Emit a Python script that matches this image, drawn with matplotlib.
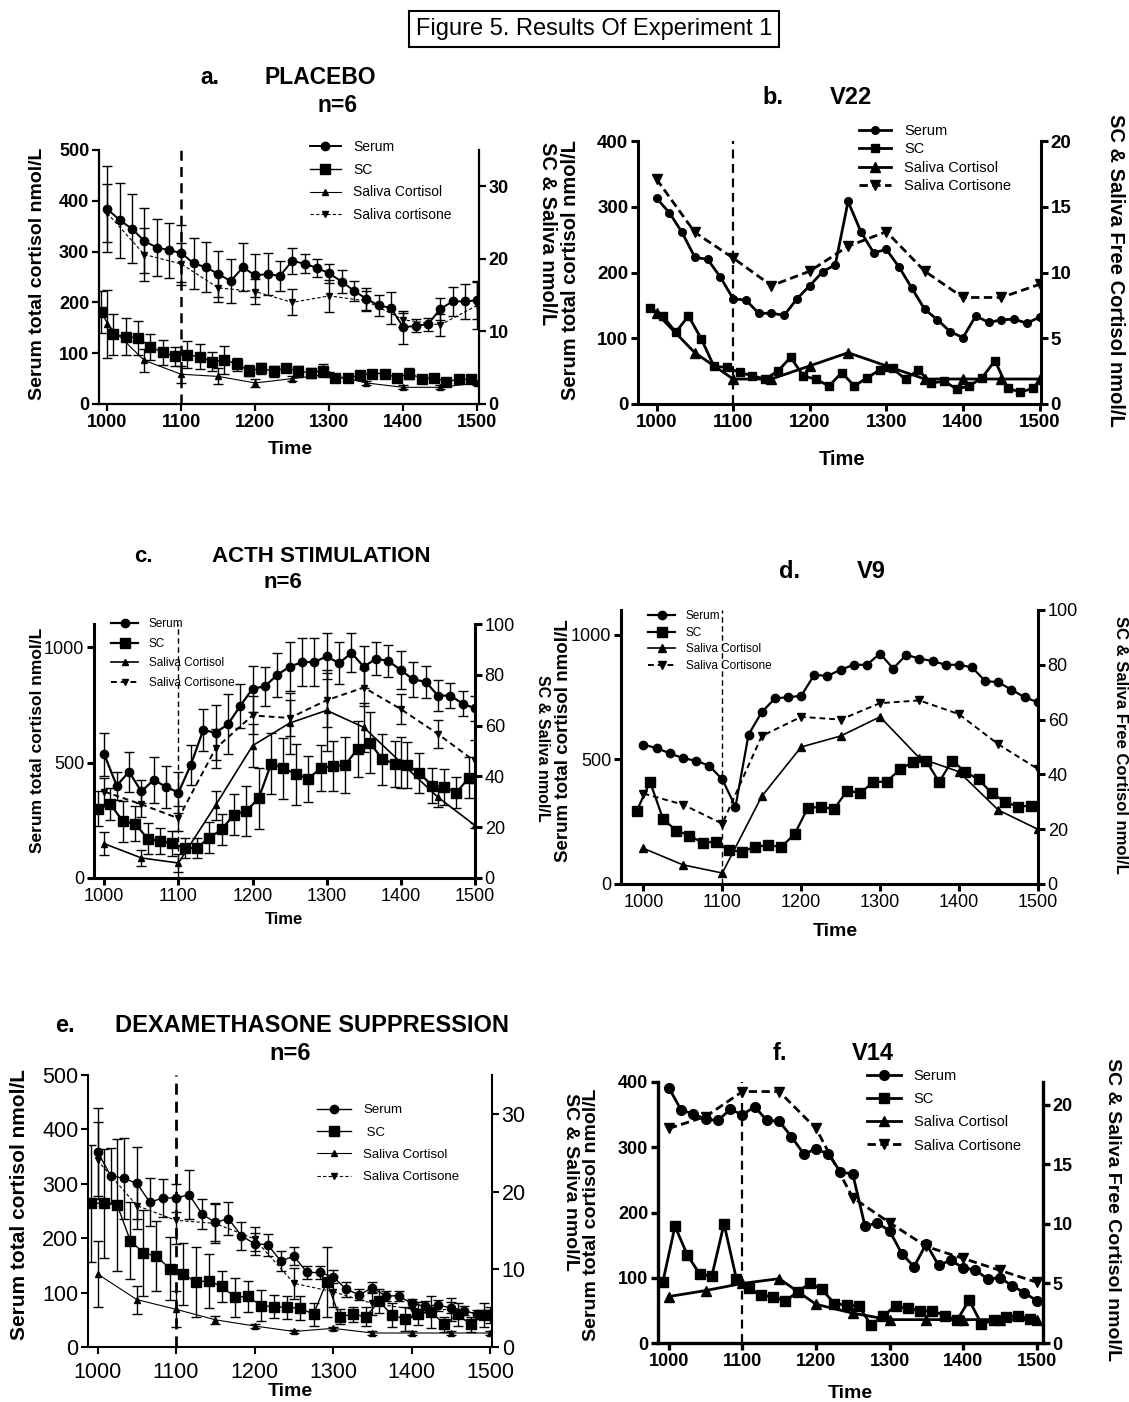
import matplotlib.pyplot as plt

W, H = 1129, 1402
plt.rcParams['font.family'] = ['Liberation Sans', 'DejaVu Sans']
fig = plt.figure(figsize=(W / 100, H / 100), dpi=100)

# sampling times, clock time (1000 = 10:00), serum every 10 min, SC drawn offset, saliva every 30 min
t_serum = [1000, 1016.7, 1033.3, 1050, 1066.7, 1083.3, 1100, 1116.7, 1133.3, 1150, 1166.7,
           1183.3, 1200, 1216.7, 1233.3, 1250, 1266.7, 1283.3, 1300, 1316.7, 1333.3, 1350,
           1366.7, 1383.3, 1400, 1416.7, 1433.3, 1450, 1466.7, 1483.3, 1500]
t_sc = [991.7, 1008.3, 1025, 1041.7, 1058.3, 1075, 1091.7, 1108.3, 1125, 1141.7, 1158.3,
        1175, 1191.7, 1208.3, 1225, 1241.7, 1258.3, 1275, 1291.7, 1308.3, 1325, 1341.7,
        1358.3, 1375, 1391.7, 1408.3, 1425, 1441.7, 1458.3, 1475, 1491.7]
t_saliva = [1000, 1050, 1100, 1150, 1200, 1250, 1300, 1350, 1400, 1450, 1500]

# a. placebo (mean, sem)
a_serum = [384, 362, 345, 321, 308, 303, 297, 277, 269, 256, 242, 269, 253, 256, 252, 282,
           276, 268, 257, 241, 223, 207, 194, 189, 151, 154, 157, 187, 202, 202, 204]
a_serum_err = [85, 74, 68, 64, 56, 54, 56, 50, 49, 46, 43, 47, 42, 42, 30, 26, 19, 18, 18,
               22, 20, 22, 20, 31, 32, 13, 13, 21, 29, 34, 37]
a_sc = [12.7, 9.6, 9.3, 9.1, 7.9, 7.1, 6.6, 6.8, 6.5, 5.8, 6.1, 5.5, 4.6, 4.9, 4.5, 5.0,
        4.5, 4.3, 4.6, 3.6, 3.6, 4.0, 4.2, 4.2, 3.6, 4.2, 3.5, 3.6, 3.1, 3.4, 3.4]
a_sc_err = [2.9, 2.8, 2.5, 2.4, 1.8, 1.7, 1.3, 1.9, 1.7, 1.3, 1.9, 0.9, 0.8, 0.8, 0.8, 0.5,
            0.8, 0.7, 0.9, 0.5, 0.3, 0.4, 0.4, 0.4, 0.5, 0.8, 0.3, 0.3, 0.3, 0.3, 0.3]
a_cortisol = [11.0, 6.0, 4.1, 3.8, 2.9, 3.5, 4.1, 2.9, 2.3, 2.3, 2.9]
a_cortisol_err = [4.7, 1.6, 1.2, 1.1, 0.5, 0.3, 0.3, 0.3, 0.3, 0.3, 0.3]
a_cortisone = [26.3, 20.6, 19.3, 16.0, 15.5, 14.0, 14.9, 14.2, 11.6, 10.9, 13.6]
a_cortisone_err = [4.0, 3.7, 2.9, 2.0, 1.7, 1.8, 2.2, 1.4, 1.0, 1.5, 3.3]

# b. V22
b_serum = [313, 291, 261, 223, 220, 193, 160, 158, 138, 138, 135, 160, 180, 201, 212, 308,
           262, 230, 235, 208, 176, 144, 128, 110, 101, 134, 124, 128, 129, 123, 132]
b_sc = [7.3, 6.7, 5.45, 6.7, 4.97, 2.86, 2.79, 2.4, 2.15, 1.9, 2.5, 3.55, 2.13, 1.88, 1.37,
        2.38, 1.37, 2.0, 2.6, 2.7, 1.88, 2.6, 1.57, 1.75, 1.14, 1.37, 2.0, 3.3, 1.2, 0.9, 1.2]
b_cortisol = [6.9, 3.9, 1.9, 1.9, 2.9, 3.9, 2.9, 1.9, 1.9, 1.9, 1.9]
b_cortisone = [17.1, 13.05, 11.1, 9.0, 10.1, 12.0, 13.1, 10.1, 8.1, 8.1, 9.1]

# c. ACTH stimulation
c_serum = [535, 400, 460, 375, 425, 395, 370, 490, 640, 630, 665, 745, 820, 830, 880, 915,
           935, 935, 960, 930, 975, 915, 950, 940, 900, 860, 850, 790, 790, 755, 735]
c_serum_err = [95, 61, 87, 51, 100, 91, 90, 87, 92, 120, 130, 94, 100, 85, 95, 105, 105,
               105, 100, 90, 85, 90, 70, 68, 82, 75, 70, 68, 55, 55, 55]
c_sc = [27.3, 29.1, 22.3, 21.4, 15.5, 14.5, 13.6, 11.8, 11.8, 15.9, 19.1, 25.0, 26.4, 31.4,
        45.0, 43.2, 40.9, 39.1, 43.2, 44.1, 44.5, 50.9, 53.2, 46.8, 45.0, 44.5, 41.4, 36.4,
        35.9, 33.6, 39.5]
c_sc_err = [7, 6.4, 8, 7, 6, 5, 5, 4, 4, 6, 6, 8, 10, 12, 12, 12, 12, 9, 9, 10, 11, 11, 12,
            10, 9, 9, 8, 7, 7, 6, 8]
c_cortisol = [13.5, 7.9, 5.9, 28.6, 52.1, 61.0, 66.0, 59.3, 45.5, 31.8, 20.7]
c_cortisol_err = [4.6, 3, 3.4, 5.6, 8.4, 12, 16, 9.5, 10, 3.8, 1]
c_cortisone = [34.0, 29.0, 23.5, 51.0, 64.0, 63.0, 70.0, 75.0, 66.5, 56.7, 45.9]
c_cortisone_err = [5.5, 5, 5, 7.7, 7.5, 7.2, 10.7, 7.3, 6, 5.7, 8.5]

# d. V9
d_serum = [560, 545, 525, 505, 495, 475, 420, 310, 600, 690, 745, 750, 755, 840, 835, 860,
           880, 880, 925, 865, 920, 905, 895, 880, 880, 870, 815, 810, 780, 750, 730]
d_sc = [26.8, 37.3, 23.6, 19.5, 17.7, 15.0, 15.5, 12.3, 11.8, 13.6, 14.1, 13.6, 18.2, 27.7,
        28.2, 27.3, 34.1, 33.2, 37.3, 37.3, 41.8, 44.5, 45.0, 37.3, 45.0, 40.9, 38.2, 33.2,
        30.0, 28.2, 28.6]
d_cortisol = [13, 7, 4, 32, 50, 54, 61, 46, 41, 27, 20]
d_cortisone = [33, 29, 22, 54, 61, 60, 66, 67, 62, 51, 42]

# e. dexamethasone suppression
e_serum = [359, 315, 310, 301, 266, 274, 274, 280, 244, 229, 236, 204, 190, 188, 158, 167,
           137, 137, 129, 106, 96, 109, 94, 94, 80, 75, 77, 72, 67, 60, 60]
e_serum_err = [81, 50, 74, 66, 44, 35, 26, 45, 28, 35, 30, 25, 20, 20, 18, 17, 12, 12, 12,
               14, 10, 10, 9, 9, 9, 10, 10, 10, 8, 8, 8]
e_sc = [18.5, 18.5, 18.3, 13.7, 12.1, 11.7, 10.1, 9.4, 8.4, 8.5, 7.8, 6.4, 6.5, 5.3, 5.2,
        5.1, 5.0, 4.2, 8.4, 3.9, 4.2, 3.9, 5.9, 4.1, 3.6, 4.3, 4.5, 2.9, 4.2, 2.9, 4.1]
e_sc_err = [7.5, 7, 8.5, 5, 5.5, 4.5, 4, 4, 4.5, 3.5, 2, 2.5, 2, 2, 1.5, 1.5, 1.5, 1.5, 4.5,
            1, 1, 1.2, 1.5, 1.5, 1.5, 1.5, 2, 1, 1.5, 1, 1.5]
e_cortisol = [9.4, 6.1, 4.85, 3.5, 2.7, 2.0, 2.4, 1.8, 1.8, 1.8, 1.8]
e_cortisol_err = [4.2, 1.8, 2.3, 0.5, 0.2, 0.2, 0.2, 0.2, 0.2, 0.2, 0.2]
e_cortisone = [24.0, 18.2, 16.3, 15.9, 13.9, 8.2, 7.1, 5.6, 4.9, 4.8, 4.1]
e_cortisone_err = [5, 3, 3, 2.5, 1.5, 2, 2, 1.5, 1, 1.5, 1]

# f. V14
f_serum = [391, 357, 351, 343, 341, 358, 350, 362, 341, 340, 316, 290, 297, 290, 262, 259,
           179, 184, 172, 137, 117, 152, 119, 127, 115, 112, 98, 100, 88, 77, 65]
f_sc = [5.1, 9.8, 7.4, 5.8, 5.6, 10.0, 5.4, 4.6, 4.0, 3.9, 3.5, 4.3, 5.0, 4.5, 3.3, 3.2,
        3.1, 1.5, 2.3, 3.1, 2.9, 2.7, 2.7, 2.3, 1.9, 3.6, 1.6, 1.9, 2.2, 2.3, 2.0]
f_cortisol = [3.9, 4.4, 5.0, 5.4, 3.25, 2.5, 1.96, 1.96, 1.96, 1.96, 1.96]
f_cortisone = [18.0, 19.0, 21.1, 21.1, 18.0, 12.2, 10.1, 8.1, 7.1, 6.1, 5.1]

x_ticks = [1000, 1100, 1200, 1300, 1400, 1500]
narrow = ['Liberation Sans Narrow', 'Liberation Sans', 'DejaVu Sans']
plain = ['Liberation Sans', 'DejaVu Sans']


def make_axes(l, t, r, b, xlim, yl, yr, ytl, ytr, fs, weight='bold', lw=2.0, fam=plain):
    ax = fig.add_axes([l / W, 1 - b / H, (r - l) / W, (b - t) / H])
    ax2 = ax.twinx()
    ax.set_xlim(xlim)
    ax.set_ylim(yl)
    ax2.set_ylim(yr)
    kw = dict(fontsize=fs, fontweight=weight, fontfamily=fam)
    ax.set_xticks(x_ticks, [str(v) for v in x_ticks], **kw)
    ax.set_yticks(ytl, [str(v) for v in ytl], **kw)
    ax2.set_yticks(ytr, [str(v) for v in ytr], **kw)
    ax.spines['top'].set_visible(False)
    ax.spines['right'].set_visible(False)
    for s in ('top', 'left', 'bottom'):
        ax2.spines[s].set_visible(False)
    ax.spines['left'].set_linewidth(lw)
    ax.spines['bottom'].set_linewidth(lw)
    ax2.spines['right'].set_linewidth(lw)
    ax.tick_params(direction='out', length=5, width=lw, pad=2)
    ax2.tick_params(direction='out', length=5, width=lw, pad=2)
    return ax, ax2


def series(ax, x, y, err, marker, ls, lw, ms):
    if err is None:
        line, = ax.plot(x, y, color='black', ls=ls, lw=lw, marker=marker, ms=ms)
        return line
    cont = ax.errorbar(x, y, yerr=err, color='black', ls=ls, lw=lw, marker=marker, ms=ms,
                       capsize=3.5, elinewidth=1.0, capthick=1.0)
    return cont[0]


def legend(ax, handles, labels, x, y, fs, hl, ls, fam=plain):
    ax.legend(handles, labels, loc='upper left', bbox_to_anchor=(x / W, 1 - y / H),
              bbox_transform=fig.transFigure, frameon=False, borderpad=0, borderaxespad=0,
              handlelength=hl, handletextpad=0.9, labelspacing=ls, numpoints=1,
              prop={'size': fs, 'family': fam})


def label(x, y, s, fs, rot=0, weight='bold', fam=plain):
    fig.text(x / W, 1 - y / H, s, fontsize=fs, fontweight=weight, rotation=rot,
             ha='center', va='center', family=fam)


# figure title
fig.text(594 / W, 1 - 29 / H, 'Figure 5. Results Of Experiment 1', fontsize=17,
         ha='center', va='center',
         bbox=dict(boxstyle='square,pad=0.3', fc='white', ec='black', lw=1.5))

# ---- a. placebo
ax, ax2 = make_axes(99, 150, 479, 404, (988.8, 1502.3), (0, 500), (0, 35),
                    [0, 100, 200, 300, 400, 500], [0, 10, 20, 30], 13, lw=1.6)
ax.axvline(1100, color='black', ls=(0, (4, 2.5)), lw=1.8)
h1 = series(ax, t_serum, a_serum, a_serum_err, 'o', '-', 1.4, 6)
h2 = series(ax2, t_sc, a_sc, a_sc_err, 's', '-', 1.0, 6.5)
h3 = series(ax2, t_saliva, a_cortisol, a_cortisol_err, '^', '-', 0.8, 5)
h4 = series(ax2, t_saliva, a_cortisone, a_cortisone_err, 'v', (0, (3, 2)), 0.8, 5)
legend(ax2, [h1, h2, h3, h4], ['Serum', 'SC', 'Saliva Cortisol', 'Saliva cortisone'],
       310, 140, 10, 2.2, 0.63)
label(38, 274, 'Serum total cortisol nmol/L', 14, 90)
label(290, 450, 'Time', 14)
label(210, 77, 'a.', 16.5)
label(320, 77, 'PLACEBO', 16.5)
label(338, 105, 'n=6', 16.5)

# ---- b. V22
ax, ax2 = make_axes(638, 141, 1041, 404, (975.8, 1501.8), (0, 400), (0, 20),
                    [0, 100, 200, 300, 400], [0, 5, 10, 15, 20], 13.5, lw=2.2)
ax.axvline(1100, color='black', ls=(0, (4, 2.5)), lw=1.6)
h1 = series(ax, t_serum, b_serum, None, 'o', '-', 2.0, 5.5)
h2 = series(ax2, t_sc, b_sc, None, 's', '-', 2.0, 6)
h3 = series(ax2, t_saliva, b_cortisol, None, '^', '-', 2.0, 6.5)
h4 = series(ax2, t_saliva, b_cortisone, None, 'v', (0, (3, 1.6)), 2.0, 6.5)
legend(ax2, [h1, h2, h3, h4], ['Serum', 'SC', 'Saliva Cortisol', 'Saliva Cortisone'],
       859, 124, 10.5, 2.2, 0.3)
label(570, 270, 'Serum total cortisol nmol/L', 14.5, 90)
label(547, 234, 'SC & Saliva nmol/L', 14.5, 270)
label(1115, 270, 'SC & Saliva Free Cortisol nmol/L', 14.5, 270)
label(842, 460, 'Time', 14.5)
label(773, 98, 'b.', 17)
label(851, 98, 'V22', 17)

# ---- c. ACTH stimulation
ax, ax2 = make_axes(94, 624, 475, 878, (986.1, 1500), (0, 1100), (0, 100),
                    [0, 500, 1000], [0, 20, 40, 60, 80, 100], 13, weight='normal', lw=2.2,
                    fam=narrow)
ax.axvline(1100, color='black', ls=(0, (4, 2.5)), lw=1.0)
h1 = series(ax, t_serum, c_serum, c_serum_err, 'o', '-', 1.6, 6)
h2 = series(ax2, t_sc, c_sc, c_sc_err, 's', '-', 1.6, 7)
h3 = series(ax2, t_saliva, c_cortisol, c_cortisol_err, '^', '-', 1.2, 5)
h4 = series(ax2, t_saliva, c_cortisone, c_cortisone_err, 'v', (0, (3, 2)), 1.4, 5)
legend(ax2, [h1, h2, h3, h4], ['Serum', 'SC', 'Saliva Cortisol', 'Saliva Cortisone'],
       111, 618, 8.5, 2.3, 0.65, fam=narrow)
label(38, 740, 'Serum total cortisol nmol/L', 12.5, 90)
label(542, 748, 'SC & Saliva nmol/L', 11.5, 270)
label(284, 920, 'Time', 12, fam=narrow)
label(143, 556, 'c.', 16)
label(321, 556, 'ACTH STIMULATION', 16)
label(283, 583, 'n=6', 16)

# ---- d. V9
ax, ax2 = make_axes(621, 610, 1038, 884, (971.5, 1500.4), (0, 1100), (0, 100),
                    [0, 500, 1000], [0, 20, 40, 60, 80, 100], 13, weight='normal', lw=2.2,
                    fam=narrow)
ax.axvline(1100, color='black', ls=(0, (4, 2.5)), lw=1.0)
h1 = series(ax, t_serum, d_serum, None, 'o', '-', 1.6, 6)
h2 = series(ax2, t_sc, d_sc, None, 's', '-', 1.6, 7)
h3 = series(ax2, t_saliva, d_cortisol, None, '^', '-', 1.2, 6)
h4 = series(ax2, t_saliva, d_cortisone, None, 'v', (0, (3, 2)), 1.4, 6)
legend(ax2, [h1, h2, h3, h4], ['Serum', 'SC', 'Saliva Cortisol', 'Saliva Cortisone'],
       648, 610, 8.5, 2.3, 0.4, fam=narrow)
label(564, 741, 'Serum total cortisol nmol/L', 13.5, 90)
label(1120, 745, 'SC & Saliva Free Cortisol nmol/L', 12, 270)
label(835, 932, 'Time', 14)
label(790, 571, 'd.', 17)
label(871, 571, 'V9', 17)

# ---- e. dexamethasone suppression
ax, ax2 = make_axes(88, 1075, 492, 1347, (987.9, 1502.2), (0, 500), (0, 35),
                    [0, 100, 200, 300, 400, 500], [0, 10, 20, 30], 15.5, weight='normal',
                    lw=1.5)
ax.tick_params(axis='x', pad=6)
ax.axvline(1100, color='black', ls=(0, (4, 2.5)), lw=2.0)
h1 = series(ax, t_serum, e_serum, e_serum_err, 'o', '-', 1.0, 6)
h2 = series(ax2, t_sc, e_sc, e_sc_err, 's', '-', 1.0, 6.5)
h3 = series(ax2, t_saliva, e_cortisol, e_cortisol_err, '^', '-', 0.8, 5)
h4 = series(ax2, t_saliva, e_cortisone, e_cortisone_err, 'v', (0, (3, 2)), 0.8, 5)
legend(ax2, [h1, h2, h3, h4], ['Serum', ' SC', 'Saliva Cortisol', 'Saliva Cortisone'],
       317, 1104, 9.5, 2.6, 0.77)
label(20, 1205, 'Serum total cortisol nmol/L', 15, 90)
label(290, 1391, 'Time', 14)
label(65, 1025, 'e.', 17)
label(312, 1025, 'DEXAMETHASONE SUPPRESSION', 17)
label(290, 1054, 'n=6', 17)

# ---- f. V14
ax, ax2 = make_axes(658, 1082, 1043, 1343, (985.2, 1508.7), (0, 400), (0, 21.9),
                    [0, 100, 200, 300, 400], [0, 5, 10, 15, 20], 13, lw=2.4)
ax.axvline(1100, color='black', ls=(0, (4, 2.5)), lw=1.6)
h1 = series(ax, t_serum, f_serum, None, 'o', '-', 2.0, 7)
h2 = series(ax2, t_sc, f_sc, None, 's', '-', 2.0, 7.5)
h3 = series(ax2, t_saliva, f_cortisol, None, '^', '-', 2.0, 6.5)
h4 = series(ax2, t_saliva, f_cortisone, None, 'v', (0, (3, 1.6)), 2.0, 6.5)
legend(ax2, [h1, h2, h3, h4], ['Serum', 'SC', 'Saliva Cortisol', 'Saliva Cortisone'],
       867, 1069, 10.5, 2.3, 0.63)
label(592, 1215, 'Serum total cortisol nmol/L', 14, 90)
label(571, 1182, 'SC & Saliva nmol/L', 14, 270)
label(1112, 1210, 'SC & Saliva Free Cortisol nmol/L', 14, 270)
label(850, 1393, 'Time', 14)
label(780, 1054, 'f.', 17)
label(873, 1054, 'V14', 17)

fig.savefig('out.png', dpi=100)
